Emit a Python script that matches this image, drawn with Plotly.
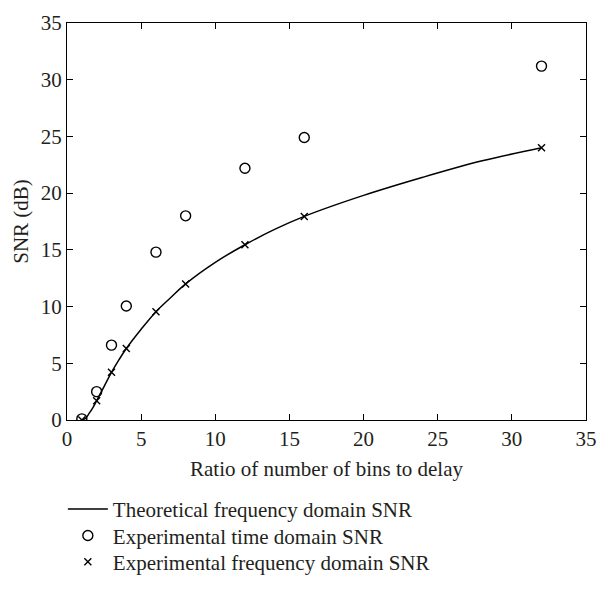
import plotly.graph_objects as go

# Ratio of number of bins to delay
ratio = [1, 2, 3, 4, 6, 8, 12, 16, 32]

time_snr = [0.1, 2.5, 6.6, 10.05, 14.8, 18.0, 22.2, 24.9, 31.2]
freq_snr = [0.0, 1.7, 4.2, 6.3, 9.55, 12.0, 15.45, 17.95, 24.0]

# Theoretical curve, sampled along the drawn line
theory_x = [1.0, 1.25, 1.5, 1.75, 2.0, 2.5, 3.0, 3.5, 4.0, 5.0, 6.0, 7.0, 8.0,
            10.0, 12.0, 14.0, 16.0, 20.0, 24.0, 28.0, 32.0]
theory_y = [0.0, 0.15, 0.6, 1.1, 1.7, 2.95, 4.2, 5.3, 6.3, 8.0, 9.55, 10.8, 12.0,
            13.9, 15.45, 16.8, 17.95, 19.8, 21.4, 22.85, 24.0]

FONT = "Liberation Serif"
TXT = "#231f20"
SIZE = 21

fig = go.Figure()
fig.add_trace(go.Scatter(
    x=theory_x, y=theory_y, mode="lines",
    line={"color": "black", "width": 1.5, "shape": "spline"},
    name="Theoretical frequency domain SNR", legend="legend", showlegend=True,
))
fig.add_trace(go.Scatter(
    x=ratio, y=time_snr, mode="markers",
    marker={"symbol": "circle-open", "size": 10, "color": "black", "line": {"width": 1.4}},
    name="Experimental time domain SNR", legend="legend2", showlegend=True,
))
fig.add_trace(go.Scatter(
    x=ratio, y=freq_snr, mode="markers",
    marker={"symbol": "x-thin-open", "size": 7, "color": "black", "line": {"width": 1.4}},
    name="Experimental frequency domain SNR", legend="legend3", showlegend=True,
))

axis_common = dict(
    showline=True, linecolor="black", linewidth=1.3, mirror="ticks",
    ticks="inside", ticklen=6, tickwidth=1.2, tickcolor="black",
    showgrid=False, zeroline=False, ticklabeloverflow="allow",
    tickfont={"family": FONT, "size": SIZE, "color": TXT},
)

legend_common = dict(
    x=-0.008, xanchor="left", yanchor="middle", bgcolor="rgba(0,0,0,0)",
    font={"family": FONT, "size": SIZE, "color": TXT}, itemwidth=40,
)

fig.update_layout(
    width=608, height=594,
    showlegend=True,
    margin={"l": 67, "r": 11, "t": 11, "b": 164},
    plot_bgcolor="white", paper_bgcolor="white",
    xaxis=dict(axis_common, range=[0, 35], dtick=5,
               title={"text": "Ratio of number of bins to delay", "standoff": 10,
                      "font": {"family": FONT, "size": SIZE, "color": TXT}}),
    yaxis=dict(axis_common, range=[0, 35], dtick=5,
               title={"text": "SNR (dB)", "standoff": 6,
                      "font": {"family": FONT, "size": SIZE, "color": TXT}}),
    legend=dict(legend_common, y=-0.225),
    legend2=dict(legend_common, y=-0.292),
    legend3=dict(legend_common, y=-0.358),
)

# drop the default page margin so the figure sits at the window's corner
fig.write_html("out.html", config={"displayModeBar": False},
               post_script="document.body.style.margin='0';")
